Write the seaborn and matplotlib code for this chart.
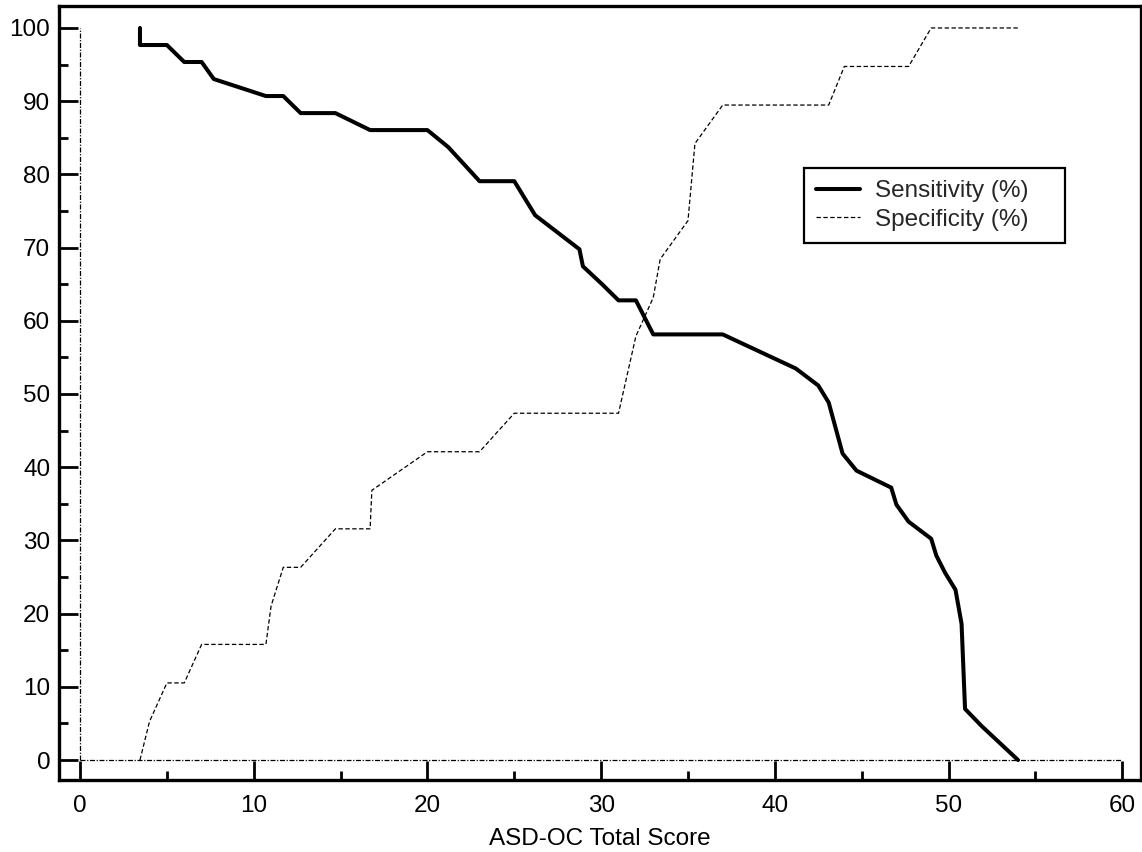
import matplotlib
matplotlib.use("Agg")
import matplotlib.pyplot as plt
import numpy as np
import pandas as pd
import seaborn as sns
from matplotlib.ticker import MultipleLocator

# ---- data ----
sens_score = [3.45, 3.45, 5.0, 6.0, 7.0, 7.7, 10.7, 11.7, 12.7, 14.7, 16.7, 20.0, 21.2,
              23.0, 25.0, 25.6, 26.2, 28.75, 28.95, 30.0, 31.0, 32.0, 33.0, 37.0, 41.2,
              42.5, 43.1, 43.9, 44.7, 46.7, 47.0, 47.7, 49.0, 49.3, 49.8, 50.4, 50.75,
              50.95, 51.9, 54.0]
sens_value = [100, 97.67, 97.67, 95.35, 95.35, 93.02, 90.70, 90.70, 88.37, 88.37, 86.05,
              86.05, 83.72, 79.07, 79.07, 76.74, 74.42, 69.77, 67.44, 65.12, 62.79, 62.79,
              58.14, 58.14, 53.49, 51.16, 48.84, 41.86, 39.53, 37.21, 34.88, 32.56, 30.23,
              27.91, 25.58, 23.26, 18.60, 6.98, 4.65, 0.0]

spec_score = [3.45, 4.0, 5.0, 6.0, 7.0, 10.7, 11.0, 11.7, 12.7, 14.7, 16.7, 16.8, 20.0,
              23.0, 25.0, 31.0, 32.0, 33.0, 33.4, 35.0, 35.4, 37.0, 43.1, 44.0, 47.7,
              49.0, 54.0]
spec_value = [0, 5.26, 10.53, 10.53, 15.79, 15.79, 21.05, 26.32, 26.32, 31.58, 31.58,
              36.84, 42.11, 42.11, 47.37, 47.37, 57.89, 63.16, 68.42, 73.68, 84.21, 89.47,
              89.47, 94.74, 94.74, 100, 100]

x_ticks = [0, 10, 20, 30, 40, 50, 60]
y_ticks = [0, 10, 20, 30, 40, 50, 60, 70, 80, 90, 100]
x_label = "ASD-OC Total Score"
sens_label = "Sensitivity (%)"
spec_label = "Specificity (%)"

sens_df = pd.DataFrame({"score": sens_score, "value": sens_value})
spec_df = pd.DataFrame({"score": spec_score, "value": spec_value})

sns.set_theme(style="white")
plt.rcParams["font.family"] = ["Liberation Sans", "DejaVu Sans"]
plt.rcParams["axes.unicode_minus"] = False

fig = plt.figure(figsize=(11.42, 8.52), dpi=100)
ax = fig.add_axes([58.5 / 1142, 72 / 852, 1082.5 / 1142, 774 / 852])

# zero reference lines (dash-dot)
zero_style = dict(color="black", linewidth=0.9, linestyle=(0, (4, 1.3, 1, 1.3)), zorder=1)
ax.plot([0, 0], [0, 100], **zero_style)
ax.plot([0, 60], [0, 0], **zero_style)

sns.lineplot(data=sens_df, x="score", y="value", ax=ax, sort=False, estimator=None,
             color="black", linewidth=2.9, label=sens_label, zorder=3)
sns.lineplot(data=spec_df, x="score", y="value", ax=ax, sort=False, estimator=None,
             color="black", linewidth=0.9, linestyle=(0, (3.5, 2)), label=spec_label,
             zorder=2)

ax.set_xlim(-1.24, 61.08)
ax.set_ylim(-2.73, 103.0)
ax.set_xticks(x_ticks)
ax.set_yticks(y_ticks)
ax.xaxis.set_minor_locator(MultipleLocator(5))
ax.yaxis.set_minor_locator(MultipleLocator(5))
ax.set_xlabel(x_label, fontsize=17.5, labelpad=8, color="black")
ax.set_ylabel("")

for sp in ax.spines.values():
    sp.set_visible(True)
    sp.set_color("black")
    sp.set_linewidth(2.4)

ax.tick_params(axis="both", which="both", direction="in", colors="black",
               bottom=True, left=True, top=False, right=False)
ax.tick_params(axis="both", which="major", length=14, width=2, labelsize=17.5)
ax.tick_params(axis="both", which="minor", length=6.5, width=2)
ax.tick_params(axis="x", which="major", pad=11)
ax.tick_params(axis="y", which="major", pad=6)

leg = ax.legend(loc="upper left", bbox_to_anchor=(0.6887, 0.6907, 0.2411, 0.1),
                mode="expand", borderaxespad=0,
                frameon=True, fancybox=False, framealpha=1, edgecolor="black",
                fontsize=17.5, handlelength=1.8, handletextpad=0.6, borderpad=0.5,
                labelspacing=0.28)
leg.get_frame().set_linewidth(1.6)

fig.savefig("out.png", dpi=100)
